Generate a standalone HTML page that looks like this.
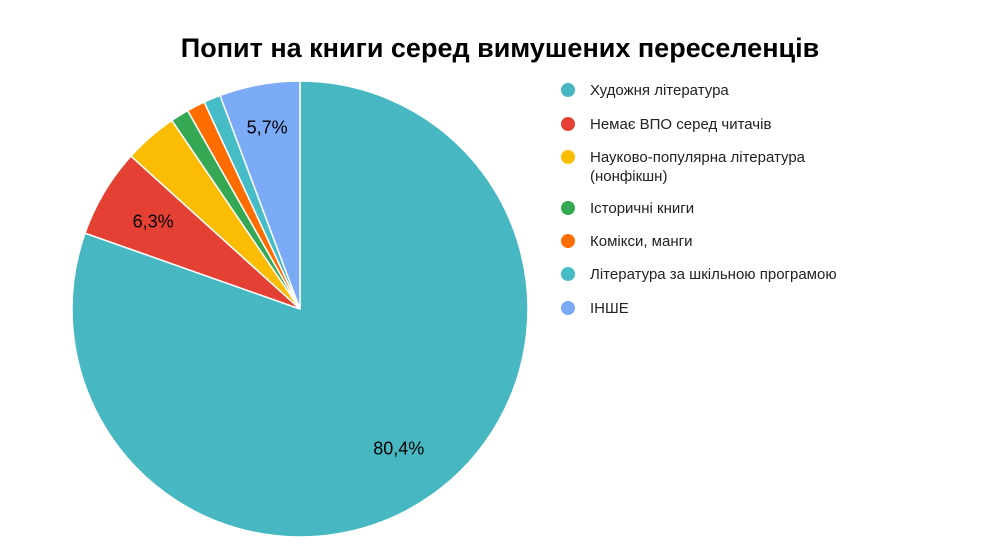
<!DOCTYPE html>
<html><head><meta charset="utf-8"><style>
body{margin:0;background:#fff;width:1000px;height:553px;overflow:hidden;font-family:"Liberation Sans",sans-serif}
</style></head><body>
<svg width="1000" height="553">
<text x="500" y="57" text-anchor="middle" font-size="27" font-weight="bold" fill="#000">Попит на книги серед вимушених переселенців</text>
<g id="slices"></g>
<g id="labels"></g>
<g id="legend"></g>
</svg>
<script>
const categories=["Художня література","Немає ВПО серед читачів","Науково-популярна література (нонфікшн)","Історичні книги","Комікси, манги","Література за шкільною програмою","ІНШЕ"];
const values=[80.4,6.3,3.8,1.3,1.3,1.2,5.7];
const colors=["#47b8c2","#e44134","#fbbc04","#34a853","#ff6d01","#46bdc6","#7baaf7"];
const ns="http://www.w3.org/2000/svg";
const cx=300,cy=309,r=228;
const total=values.reduce((a,b)=>a+b,0);
function pt(a,rr){return [cx+rr*Math.sin(a),cy-rr*Math.cos(a)];}
let acc=0;
const sg=document.getElementById('slices'),lg=document.getElementById('labels'),leg=document.getElementById('legend');
values.forEach((v,i)=>{
 const a0=acc/total*2*Math.PI; acc+=v; const a1=acc/total*2*Math.PI;
 const [x0,y0]=pt(a0,r),[x1,y1]=pt(a1,r);
 const p=document.createElementNS(ns,'path');
 p.setAttribute('d',`M${cx},${cy}L${x0},${y0}A${r},${r} 0 ${a1-a0>Math.PI?1:0} 1 ${x1},${y1}Z`);
 p.setAttribute('fill',colors[i]);p.setAttribute('stroke','#fff');p.setAttribute('stroke-width','1.5');
 
 
 sg.appendChild(p);
 if(v/total>0.05){
  const am=(a0+a1)/2;const rr=(v/total<0.06?0.81:0.75)*r;const [lx,ly]=pt(am,rr);
  const t=document.createElementNS(ns,'text');
  t.setAttribute('x',lx);t.setAttribute('y',ly+6);t.setAttribute('text-anchor','middle');t.setAttribute('font-size','18');
  t.textContent=v.toFixed(1).replace('.',',')+'%';
  
  
  lg.appendChild(t);
 }
});
const ly=[90,124,157,208,241,274,308];
categories.forEach((c,i)=>{
 const g=document.createElementNS(ns,'g');
 
 
 const ci=document.createElementNS(ns,'circle');
 ci.setAttribute('cx',568);ci.setAttribute('cy',ly[i]);ci.setAttribute('r',7);ci.setAttribute('fill',colors[i]);
 g.appendChild(ci);
 const lines=c==="Науково-популярна література (нонфікшн)"?["Науково-популярна література","(нонфікшн)"]:[c];
 lines.forEach((l,j)=>{
  const t=document.createElementNS(ns,'text');
  t.setAttribute('x',590);t.setAttribute('y',ly[i]+5+j*19);t.setAttribute('font-size','15');t.setAttribute('fill','#222');
  t.textContent=l;g.appendChild(t);
 });
 leg.appendChild(g);
});
</script>
</body></html>
